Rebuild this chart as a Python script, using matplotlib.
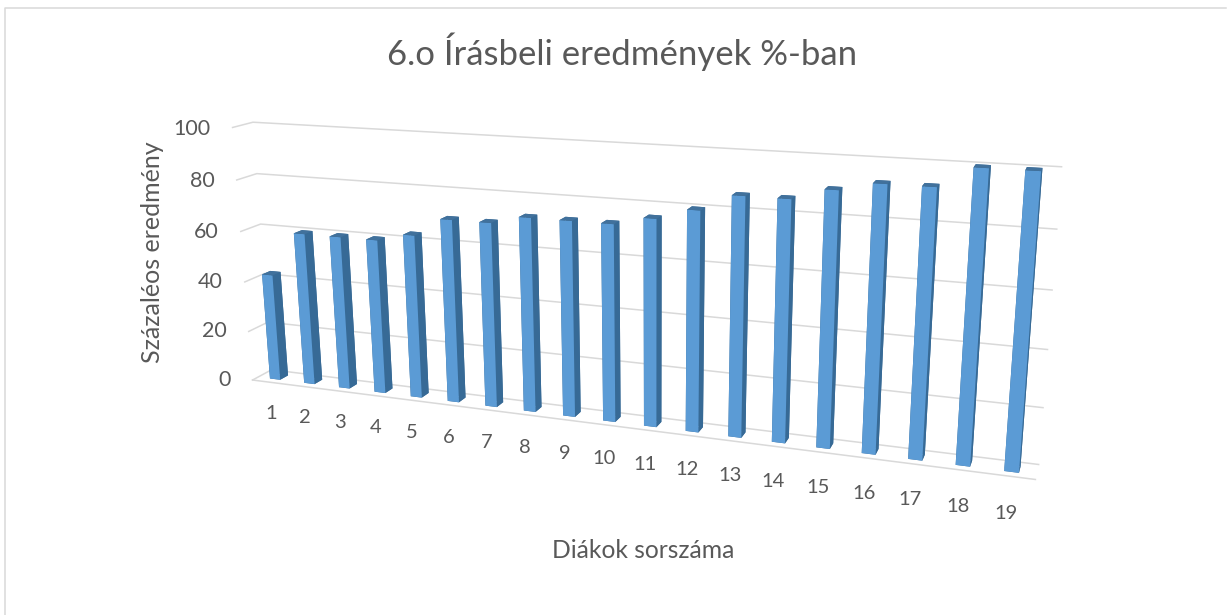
import numpy as np
import matplotlib
matplotlib.use("Agg")
import matplotlib.pyplot as plt
from mpl_toolkits.mplot3d import proj3d

plt.rcParams["font.family"] = ["Lato", "DejaVu Sans"]

students = list(range(1, 20))
scores = [42.5, 60, 60, 60, 63, 70, 70, 73, 73, 73, 76, 80, 86, 86, 90, 93, 93, 100, 100]
value_ticks = [0, 20, 40, 60, 80, 100]

title = "6.o Írásbeli eredmények %-ban"
xlabel = "Diákok sorszáma"
ylabel = "Százaléos eredmény"

grid = "#D9D9D9"
text_c = "#595959"
front, top_c, side = "#5B9BD5", "#41719C", "#376A96"

W, H = 1230, 615
fig = plt.figure(figsize=(W / 100, H / 100), dpi=100)
ax = fig.add_axes([0, 0, 1, 1], projection="3d", computed_zorder=False)
ax.set_xlim(0.5, 19.5, view_margin=0)
ax.set_ylim(0, 1, view_margin=0)
ax.set_zlim(0, 100, view_margin=0)
ax.set_xticks([])
ax.set_yticks([])
ax.set_zticks([])
ax.set_axis_off()

# camera fitted to the frame corners of the original
ax.view_init(15.4358, -69.4032, 0.4825)
ax.set_proj_type("persp", focal_length=float(np.exp(-1.1835)))
ax.set_box_aspect((2.9671, 0.1325, 1))

# place the square axes so that projected coords land on the right pixels
k, cx, cy = 4659.49, 610.77, 285.60
vl = ax.viewLim
left, right = cx + k * vl.x0, cx + k * vl.x1
top, bottom = cy - k * vl.y1, cy - k * vl.y0
ax.set_position([left / W, (H - bottom) / H, (right - left) / W, (bottom - top) / H])

# grid: side wall + back wall, then the front edge of the floor
for v in value_ticks:
    ax.plot([0.5, 0.5, 19.5], [0, 1, 1], [v, v, v], color=grid, lw=1.1, zorder=1, clip_on=False)
ax.plot([0.5, 19.5], [0, 0], [0, 0], color=grid, lw=1.1, zorder=1, clip_on=False)

n = len(students)
xs = np.array(students) - 0.15
colors = [top_c, top_c, front, side, side, side] * n
bars = ax.bar3d(xs, np.full(n, 0.29), np.zeros(n), 0.3, 0.42, scores, color=colors, shade=False, zorder=2)
bars.set_clip_on(False)


# tick labels: project the 3D spot to the flat axes coords
def tick_label(txt, x, y, z, **kw):
    x2, y2, _ = proj3d.proj_transform(x, y, z, ax.get_proj())
    ax.annotate(txt, (x2, y2), annotation_clip=False, va="center", color=text_c, **kw)


for s in students:
    tick_label(str(s), s - 0.03, 0, -13, ha="center", fontsize=14.5)
for v in value_ticks:
    tick_label(str(v), -0.15, 0, v - 1, ha="right", fontsize=15.5)

fig.text(622 / W, 1 - 52 / H, title, ha="center", va="center", fontsize=25, color=text_c)
fig.text(152 / W, 1 - 252 / H, ylabel, rotation=90, ha="center", va="center", fontsize=18, color=text_c)
fig.text(643 / W, 1 - 550 / H, xlabel, ha="center", va="center", fontsize=17.7, color=text_c)

# chart frame, only left and top are visible
fig.add_artist(plt.Line2D([4.5 / W, 4.5 / W, 1226 / W], [0, 1 - 7.5 / H, 1 - 7.5 / H], color=grid, lw=1.1))

fig.savefig("out.png", dpi=100)
